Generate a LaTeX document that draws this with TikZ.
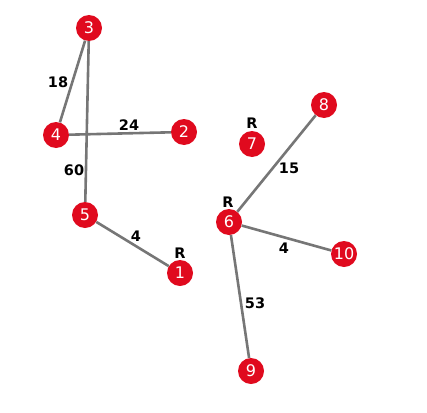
\documentclass[tikz,border=0pt]{standalone}
\usepackage{fontspec}
\setmainfont{DejaVu Sans}
\usepackage{xcolor}
\usepackage{tikz}
\usetikzlibrary{positioning}
\definecolor{nodered}{HTML}{E00A1E}
\definecolor{edgegray}{HTML}{767676}
\begin{document}
\begin{tikzpicture}[x=1pt,y=-1pt,
		vertex/.style={circle,fill=nodered,minimum size=26pt,inner sep=0pt,text=white,font=\fontsize{16}{16}\selectfont},
		link/.style={draw=edgegray,line width=2.6pt},
		wt/.style={font=\fontsize{14.5}{14.5}\selectfont\bfseries}]
		\useasboundingbox (0,0) rectangle (427,412);
		\node[vertex] (n3) at (89,28) {3};
		\node[vertex] (n4) at (56,135) {4};
		\node[vertex] (n2) at (184,132) {2};
		\node[vertex] (n5) at (85,215) {5};
		\node[vertex] (n1) at (180,273) {1};
		\node[vertex] (n7) at (252,144) {7};
		\node[vertex] (n8) at (324,105) {8};
		\node[vertex] (n6) at (229,222) {6};
		\node[vertex] (n10) at (344,254) {10};
		\node[vertex] (n9) at (251,371) {9};
		\draw[link] (n3) -- (n4);
		\draw[link] (n3) -- (n5);
		\draw[link] (n4) -- (n2);
		\draw[link] (n5) -- (n1);
		\draw[link] (n6) -- (n8);
		\draw[link] (n6) -- (n10);
		\draw[link] (n6) -- (n9);
		\node[wt] (w34) at (58,82) {18};
		\node[wt] (w42) at (129,125) {24};
		\node[wt] (w35) at (74,170) {60};
		\node[wt] (w51) at (136,236) {4};
		\node[wt] (w68) at (289,168) {15};
		\node[wt] (w610) at (284,248) {4};
		\node[wt] (w69) at (255,303) {53};
		\node[wt] (r1) at (180,253) {R};
		\node[wt] (r7) at (252,123) {R};
		\node[wt] (r6) at (228,202) {R};
	\end{tikzpicture}
\end{document}
